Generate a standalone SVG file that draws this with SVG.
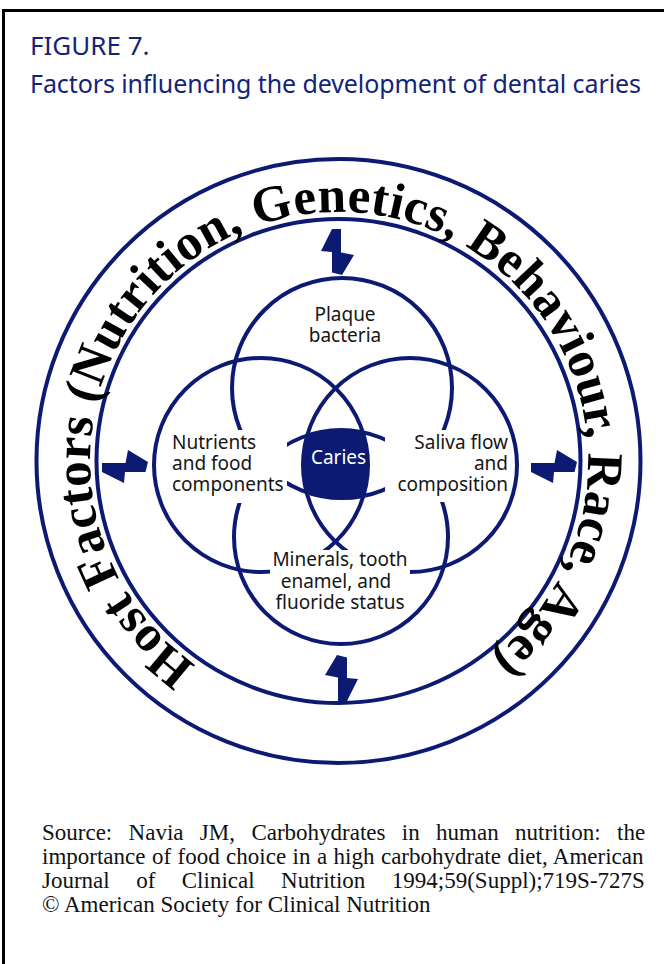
<svg xmlns="http://www.w3.org/2000/svg" width="664" height="964" viewBox="0 0 664 964">
<style>
.frame{fill:none;stroke:#000;stroke-width:3}
.ring{fill:none;stroke:#0c1a73;stroke-width:4}
.venn{fill:none;stroke:#0c1a73;stroke-width:4}
.lbl{font-family:"Noto Sans","Liberation Sans",sans-serif;font-size:19px;fill:#161616}
.cap{font-family:"Noto Sans","Liberation Sans",sans-serif;font-size:19px;fill:#ffffff}
.title{font-family:"Noto Sans","Liberation Sans",sans-serif;fill:#13237a}
.src{font-family:"Liberation Serif","Times New Roman",serif;font-size:23px;fill:#111}
.host{font-family:"Liberation Serif","Times New Roman",serif;font-weight:bold;font-size:51px;letter-spacing:0.3px;fill:#000}
.bolt{fill:#0c1a73}
</style>
<defs>
<path id="hostPath" d="M196.2,665 A249,249 0 0 1 481.8,257 A249,249 0 0 1 196.2,665"/>
<polygon id="bolt" points="-46,1 -22.5,1 -20,-12 0,0 -2.5,10 -23,10 -24,21 -46,10"/>
<mask id="knock" maskUnits="userSpaceOnUse" x="0" y="0" width="664" height="964">
<rect x="0" y="0" width="664" height="964" fill="#fff"/>
<rect x="168" y="430" width="119" height="73" fill="#000"/>
<rect x="385" y="430" width="123" height="72" fill="#000"/>
<rect x="270" y="550" width="140" height="64" fill="#000"/>
</mask>
<clipPath id="cT"><circle cx="342" cy="388" r="110"/></clipPath>
<clipPath id="cL"><circle cx="261" cy="465" r="107"/></clipPath>
<clipPath id="cR"><circle cx="410" cy="465" r="107"/></clipPath>
<clipPath id="cB"><circle cx="341" cy="537" r="107"/></clipPath>
</defs>
<rect class="frame" x="3.5" y="10.5" width="700" height="1000"/>
<g id="title">
<text class="title" x="30" y="55" font-size="26">FIGURE 7.</text>
<text class="title" x="30" y="93" font-size="25" textLength="611" lengthAdjust="spacing">Factors influencing the development of dental caries</text>
</g>
<g id="host-factors">
<circle class="ring" cx="338.5" cy="461" r="302"/>
<circle class="ring" cx="338.5" cy="461" r="242"/>
<text class="host"><textPath href="#hostPath">Host Factors (Nutrition, Genetics, Behaviour, Race, Age)</textPath></text>
</g>
<g id="node-plaque">
<circle class="venn" cx="342" cy="388" r="110" mask="url(#knock)"/>
<text class="lbl" x="345" y="321" text-anchor="middle">Plaque</text>
<text class="lbl" x="345" y="342" text-anchor="middle">bacteria</text>
</g>
<g id="node-nutrients">
<circle class="venn" cx="261" cy="465" r="107" mask="url(#knock)"/>
<text class="lbl" x="172" y="449">Nutrients</text>
<text class="lbl" x="172" y="470">and food</text>
<text class="lbl" x="172" y="491">components</text>
</g>
<g id="node-saliva">
<circle class="venn" cx="410" cy="465" r="107" mask="url(#knock)"/>
<text class="lbl" x="508" y="449" text-anchor="end">Saliva flow</text>
<text class="lbl" x="508" y="470" text-anchor="end">and</text>
<text class="lbl" x="508" y="491" text-anchor="end">composition</text>
</g>
<g id="node-minerals">
<circle class="venn" cx="341" cy="537" r="107" mask="url(#knock)"/>
<text class="lbl" x="340" y="566" text-anchor="middle">Minerals, tooth</text>
<text class="lbl" x="336" y="587.5" text-anchor="middle">enamel, and</text>
<text class="lbl" x="340" y="608.5" text-anchor="middle">fluoride status</text>
</g>
<g id="node-caries">
<g clip-path="url(#cT)"><g clip-path="url(#cL)"><g clip-path="url(#cR)"><g clip-path="url(#cB)">
<rect x="290" y="420" width="90" height="90" fill="#0c1a73"/>
</g></g></g></g>
<text class="cap" x="338.5" y="463.5" text-anchor="middle">Caries</text>
</g>
<g id="connectors">
<use href="#bolt" class="bolt" transform="translate(342,275) rotate(90)"/>
<use href="#bolt" class="bolt" transform="translate(148,462)"/>
<use href="#bolt" class="bolt" transform="translate(577,462)"/>
<use href="#bolt" class="bolt" transform="translate(337,655) rotate(-90)"/>
</g>
<g id="source">
<text class="src" x="42" y="840" word-spacing="10.6">Source: Navia JM, Carbohydrates in human nutrition: the</text>
<text class="src" x="42" y="864" word-spacing="0.7">importance of food choice in a high carbohydrate diet, American</text>
<text class="src" x="42" y="888" word-spacing="20.7">Journal of Clinical Nutrition 1994;59(Suppl);719S-727S</text>
<text class="src" x="42" y="912">© American Society for Clinical Nutrition</text>
</g>
</svg>
